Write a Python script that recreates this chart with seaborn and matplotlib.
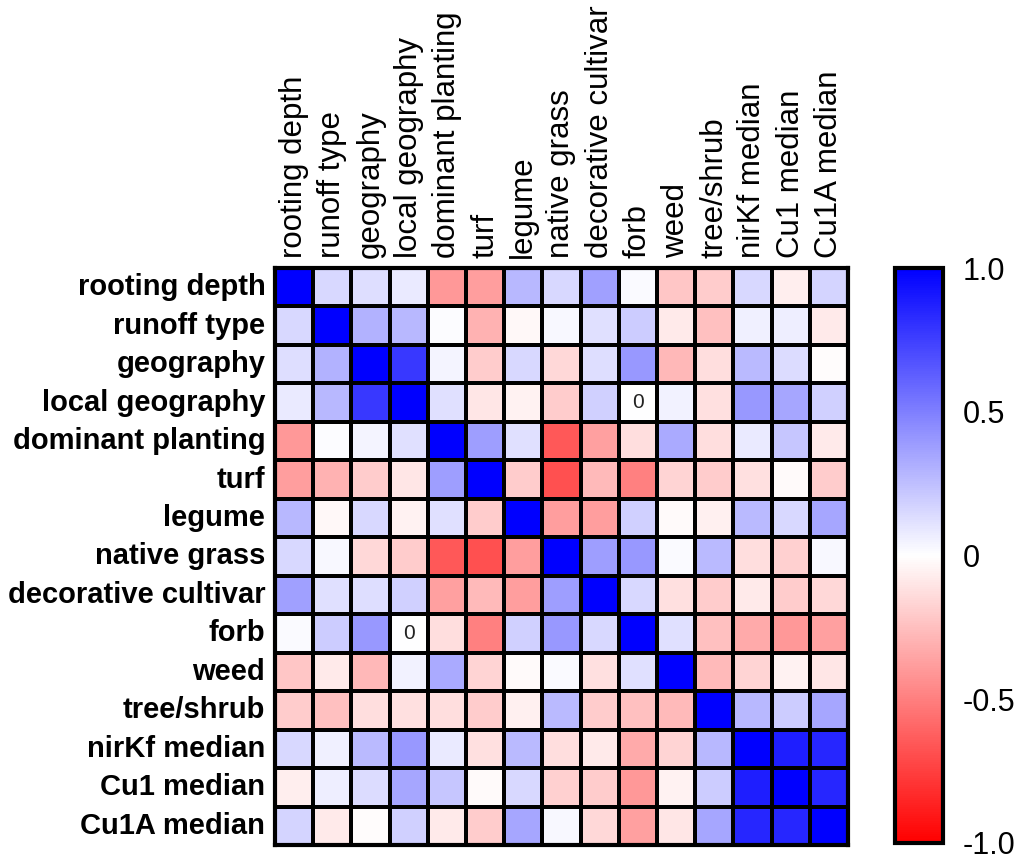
import numpy as np
import pandas as pd
import matplotlib
matplotlib.use("Agg")
import matplotlib.pyplot as plt
import seaborn as sns
from matplotlib.colors import LinearSegmentedColormap

labels = ["rooting depth", "runoff type", "geography", "local geography",
          "dominant planting", "turf", "legume", "native grass",
          "decorative cultivar", "forb", "weed", "tree/shrub",
          "nirKf median", "Cu1 median", "Cu1A median"]

corr = [
    [1.00, 0.15, 0.13, 0.08, -0.40, -0.38, 0.28, 0.15, 0.37, 0.02, -0.22, -0.20, 0.15, -0.07, 0.17],
    [0.15, 1.00, 0.30, 0.28, 0.01, -0.30, -0.03, 0.03, 0.12, 0.20, -0.08, -0.25, 0.06, 0.07, -0.08],
    [0.13, 0.30, 1.00, 0.78, 0.04, -0.20, 0.15, -0.15, 0.13, 0.40, -0.28, -0.13, 0.27, 0.14, -0.01],
    [0.08, 0.28, 0.78, 1.00, 0.12, -0.10, -0.05, -0.20, 0.18, 0.00, 0.05, -0.12, 0.40, 0.35, 0.18],
    [-0.40, 0.01, 0.04, 0.12, 1.00, 0.38, 0.12, -0.65, -0.37, -0.13, 0.33, -0.13, 0.08, 0.22, -0.08],
    [-0.38, -0.30, -0.20, -0.10, 0.38, 1.00, -0.20, -0.68, -0.27, -0.50, -0.17, -0.20, -0.12, -0.02, -0.20],
    [0.28, -0.03, 0.15, -0.05, 0.12, -0.20, 1.00, -0.38, -0.38, 0.18, -0.02, -0.06, 0.27, 0.15, 0.35],
    [0.15, 0.03, -0.15, -0.20, -0.65, -0.68, -0.38, 1.00, 0.38, 0.40, 0.02, 0.27, -0.13, -0.18, 0.03],
    [0.37, 0.12, 0.13, 0.18, -0.37, -0.27, -0.38, 0.38, 1.00, 0.15, -0.12, -0.20, -0.08, -0.20, -0.15],
    [0.02, 0.20, 0.40, 0.00, -0.13, -0.50, 0.18, 0.40, 0.15, 1.00, 0.12, -0.25, -0.33, -0.40, -0.37],
    [-0.22, -0.08, -0.28, 0.05, 0.33, -0.17, -0.02, 0.02, -0.12, 0.12, 1.00, -0.27, -0.17, -0.05, -0.10],
    [-0.20, -0.25, -0.13, -0.12, -0.13, -0.20, -0.06, 0.27, -0.20, -0.25, -0.27, 1.00, 0.28, 0.20, 0.35],
    [0.15, 0.06, 0.27, 0.40, 0.08, -0.12, 0.27, -0.13, -0.08, -0.33, -0.17, 0.28, 1.00, 0.88, 0.85],
    [-0.07, 0.07, 0.14, 0.35, 0.22, -0.02, 0.15, -0.18, -0.20, -0.40, -0.05, 0.20, 0.88, 1.00, 0.85],
    [0.17, -0.08, -0.01, 0.18, -0.08, -0.20, 0.35, 0.03, -0.15, -0.37, -0.10, 0.35, 0.85, 0.85, 1.00],
]

# cells that carry a printed value
annot_cells = [(3, 9), (9, 3)]

cbar_ticks = [1.0, 0.5, 0.0, -0.5, -1.0]
cbar_ticklabels = ["1.0", "0.5", "0", "-0.5", "-1.0"]

df = pd.DataFrame(corr, index=labels, columns=labels)
annot = np.full(df.shape, "", dtype=object)
for r, c in annot_cells:
    annot[r, c] = "0"

sns.set_style("white")
plt.rcParams["font.family"] = ["Liberation Sans", "DejaVu Sans"]
plt.rcParams["text.color"] = "black"
plt.rcParams["xtick.color"] = "black"
plt.rcParams["ytick.color"] = "black"
plt.rcParams["xtick.labelcolor"] = "black"
plt.rcParams["ytick.labelcolor"] = "black"

cmap = LinearSegmentedColormap.from_list("rwb", ["#ff0000", "#ffffff", "#0000ff"])

W, H = 1021, 861
fig = plt.figure(figsize=(W / 100, H / 100), dpi=100)
ax = fig.add_axes([275 / W, 1 - 845 / H, (848 - 275) / W, (845 - 268) / H])
cax = fig.add_axes([895 / W, 1 - 843 / H, 48 / W, (843 - 268) / H])

sns.heatmap(df, ax=ax, cbar_ax=cax, cmap=cmap, vmin=-1, vmax=1,
            linewidths=1.5, linecolor="black", annot=annot, fmt="",
            annot_kws={"size": 15, "color": "#222222"},
            cbar_kws={"ticks": cbar_ticks})

ax.xaxis.tick_top()
ax.set_xticklabels(labels, rotation=90, fontsize=22.5, va="bottom", ha="center",
                   color="black")
ax.set_yticklabels(labels, rotation=0, fontsize=21, fontweight="bold",
                   color="black")
ax.tick_params(axis="both", length=0, pad=7)
ax.set_xlabel("")
ax.set_ylabel("")
for s in ax.spines.values():
    s.set_visible(True)
    s.set_linewidth(3)
    s.set_color("black")

cb = ax.collections[0].colorbar
cb.set_ticks(cbar_ticks)
cb.set_ticklabels(cbar_ticklabels)
cb.outline.set_visible(True)
cb.outline.set_linewidth(3)
cb.outline.set_edgecolor("black")
cax.tick_params(direction="in", left=True, right=True, labelleft=False,
                labelright=True, length=6, width=2, labelsize=22, pad=14,
                colors="black")

fig.savefig("out.png", dpi=100)
